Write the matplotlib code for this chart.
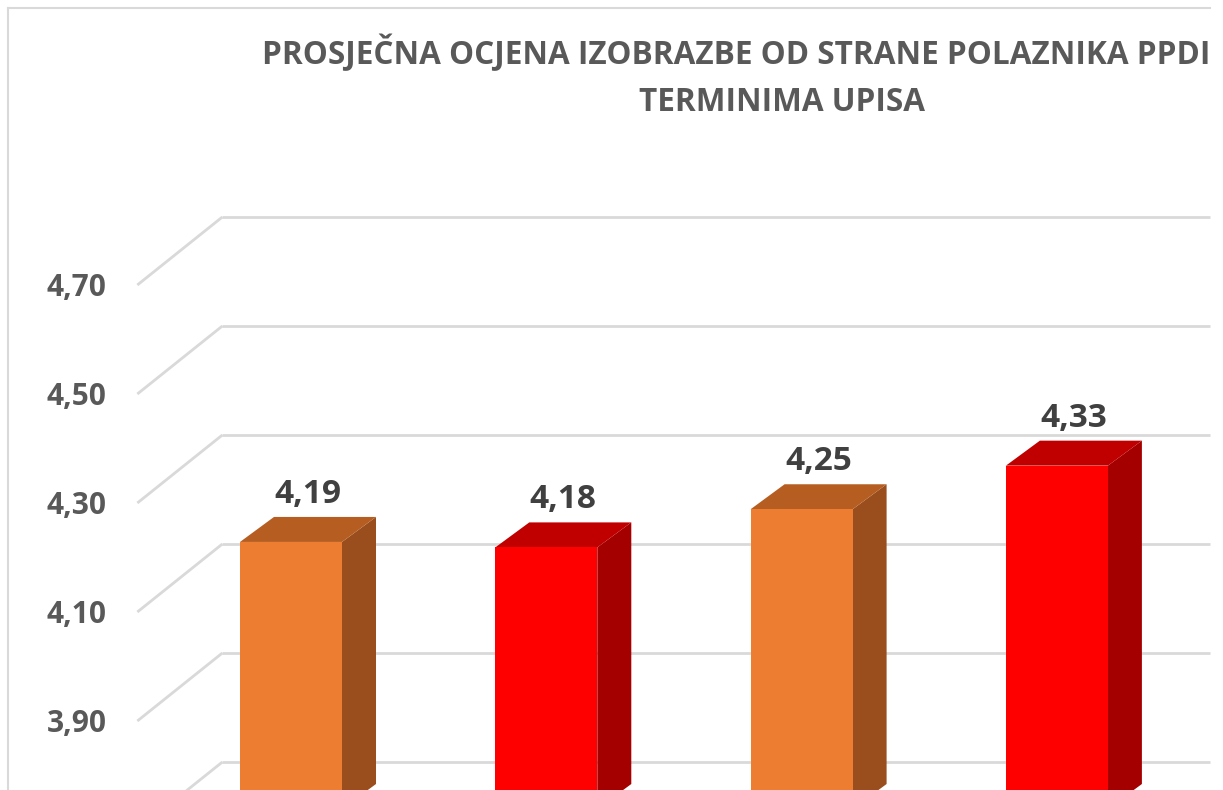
import matplotlib
matplotlib.use("Agg")
import matplotlib.pyplot as plt
from matplotlib.patches import Polygon
from matplotlib.lines import Line2D

# ---- data ----
categories = ["Termin 1", "Termin 2", "Termin 3", "Termin 4"]
values = [4.19, 4.18, 4.25, 4.33]
value_labels = ["4,19", "4,18", "4,25", "4,33"]
tick_values = [3.70, 3.90, 4.10, 4.30, 4.50, 4.70]
tick_labels = ["3,70", "3,90", "4,10", "4,30", "4,50", "4,70"]
title_line1 = "PROSJEČNA OCJENA IZOBRAZBE OD STRANE POLAZNIKA PPDI"
title_line2 = "TERMINIMA UPISA"

# ---- style ----
front_colors = ["#ED7D31", "#FF0000", "#ED7D31", "#FF0000"]
top_colors = ["#B65E22", "#C00000", "#B65E22", "#C00000"]
side_colors = ["#9A4E1D", "#A50000", "#9A4E1D", "#A50000"]
grid_color = "#D9D9D9"
font = ["Open Sans", "DejaVu Sans"]

W, H, DPI = 1223, 790, 100
CROP_RIGHT = 1210  # px where the chart image ends on the right
fig = plt.figure(figsize=(W / DPI, H / DPI), dpi=DPI)
fig.patch.set_facecolor("white")
ax = fig.add_axes([0, 0, 1, 1])
ax.set_axis_off()

# axis scaling (pixels per unit)
SX = 255.3   # px per category
SY = 545.0   # px per value unit
x_front0 = 265.0  # px of category 0 on the front plane
y_top_val = 4.70
y_top_px = 285.0  # px (from top) of 4.70 on the front plane
ax.set_xlim(-x_front0 / SX, (W - x_front0) / SX)
ax.set_ylim(y_top_val - (H - y_top_px) / SY, y_top_val + y_top_px / SY)

# depth offsets (px) -> data units
DXw, DYw = 85 / SX, 68 / SY          # full depth (back wall)
DXf, DYf = 26 / SX, 21 / SY          # bar front face
DXb, DYb = 60 / SX, 46 / SY          # bar back face
bar_w = 102 / SX
base = min(tick_values)
xmax = (CROP_RIGHT - x_front0) / SX

# walls / gridlines
wall_x = -0.5
for v in tick_values:
    ax.plot([wall_x, wall_x + DXw], [v, v + DYw], color=grid_color, lw=2, zorder=1,
            solid_capstyle="butt")
    ax.plot([wall_x + DXw, xmax], [v + DYw, v + DYw], color=grid_color, lw=2, zorder=1,
            solid_capstyle="butt")

# tick labels (only those falling inside the visible area are drawn)
for v, lab in zip(tick_values, tick_labels):
    ax.annotate(lab, (wall_x, v), xytext=(-31, -11), textcoords="offset pixels",
                ha="right", va="baseline", fontsize=21.5, fontweight="bold",
                color="#595959", family=font, annotation_clip=True)

# bars
for i, v in enumerate(values):
    x0, x1 = i - bar_w / 2, i + bar_w / 2
    front = Polygon([(x0 + DXf, base + DYf), (x1 + DXf, base + DYf),
                     (x1 + DXf, v + DYf), (x0 + DXf, v + DYf)],
                    closed=True, fc=front_colors[i], ec="none", zorder=3)
    top = Polygon([(x0 + DXf, v + DYf), (x1 + DXf, v + DYf),
                   (x1 + DXb, v + DYb), (x0 + DXb, v + DYb)],
                  closed=True, fc=top_colors[i], ec="none", zorder=3)
    side = Polygon([(x1 + DXf, base + DYf), (x1 + DXf, v + DYf),
                    (x1 + DXb, v + DYb), (x1 + DXb, base + DYb)],
                   closed=True, fc=side_colors[i], ec="none", zorder=3)
    for p in (side, top, front):
        ax.add_patch(p)
    ax.annotate(value_labels[i], (i + (DXf + DXb) / 2, v + DYb), xytext=(0, 14),
                textcoords="offset pixels", ha="center", va="baseline",
                fontsize=24, fontweight="bold", color="#404040", family=font)

# title
fig.text(262 / W, 1 - 64 / H, title_line1, ha="left", va="baseline",
         fontsize=22.7, fontweight="bold", color="#595959", family=font)
fig.text(782 / W, 1 - 111 / H, title_line2, ha="center", va="baseline",
         fontsize=22.7, fontweight="bold", color="#595959", family=font)

# chart border (left and top edges; the rest lies outside the crop)
fig.add_artist(Line2D([7.5 / W, 7.5 / W], [0, 1 - 8 / H], transform=fig.transFigure,
                      color=grid_color, lw=1.5))
fig.add_artist(Line2D([7.5 / W, CROP_RIGHT / W], [1 - 8 / H, 1 - 8 / H],
                      transform=fig.transFigure, color=grid_color, lw=1.5))

fig.savefig("out.png", dpi=DPI, facecolor="white")
